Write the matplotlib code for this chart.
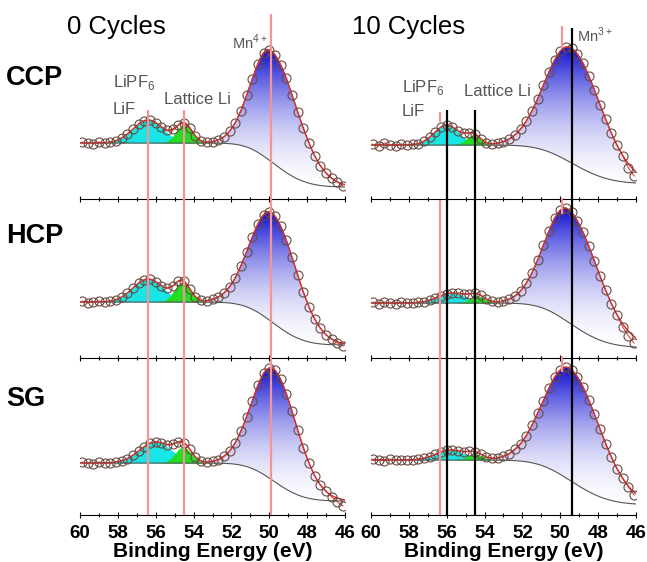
import numpy as np
import matplotlib
matplotlib.use('Agg')
import matplotlib.pyplot as plt
from matplotlib.colors import LinearSegmentedColormap

plt.rcParams['font.family'] = ['Liberation Sans', 'DejaVu Sans']

# binding energy of the measured points (eV)
energy = np.round(np.arange(59.9, 46.0, -0.3), 2)

samples = ['CCP', 'HCP', 'SG']
cycles = ['0 Cycles', '10 Cycles']

# measured Li 1s / Mn 3p intensity (a.u.), 0 cycles
ccp_0 = [57, 56, 55, 57, 56, 57, 58, 61, 65, 70, 75, 78, 79, 76, 72, 69, 70, 74, 76, 71, 63, 58, 57, 57,
         59, 62, 68, 76, 88, 104, 120, 135, 146, 149, 144, 134, 121, 104, 87, 71, 56, 43, 33, 26, 21, 17, 13]
hcp_0 = [57, 55, 56, 57, 56, 57, 58, 61, 65, 70, 75, 78, 79, 76, 72, 70, 72, 77, 77, 69, 61, 58, 57, 59,
         61, 65, 71, 80, 92, 106, 121, 134, 143, 146, 142, 132, 118, 101, 83, 66, 51, 39, 30, 23, 19, 15, 12]
sg_0 = [53, 52, 51, 53, 52, 52, 53, 54, 56, 60, 64, 68, 72, 73, 72, 70, 71, 73, 72, 66, 58, 54, 53, 54,
        55, 59, 64, 72, 84, 98, 114, 130, 142, 147, 145, 136, 121, 104, 85, 67, 52, 39, 30, 24, 18, 13, 9]

# measured intensity, 10 cycles
ccp_10 = [55, 53, 56, 54, 53, 55, 54, 55, 55, 58, 62, 67, 72, 74, 72, 68, 66, 66, 65, 60, 56, 55, 56, 57,
          60, 64, 70, 78, 88, 100, 114, 127, 139, 148, 152, 151, 145, 136, 123, 109, 94, 80, 66, 54, 43, 31, 23]
hcp_10 = [56, 54, 56, 55, 54, 56, 55, 55, 56, 56, 58, 60, 62, 64, 65, 65, 64, 64, 65, 63, 59, 57, 56, 57,
          59, 62, 67, 75, 85, 98, 113, 127, 140, 148, 150, 146, 137, 126, 112, 97, 82, 68, 54, 43, 31, 22, 15]
sg_10 = [56, 55, 54, 56, 55, 55, 55, 55, 56, 57, 58, 61, 63, 65, 65, 64, 63, 64, 63, 61, 58, 57, 57, 59,
         61, 66, 71, 79, 90, 102, 114, 127, 138, 145, 148, 145, 138, 128, 115, 101, 86, 71, 58, 46, 37, 28, 20]

# fit parameters per sample (CCP, HCP, SG), 0 cycles
bg_high_0 = [56, 56, 52]
bg_low_0 = [12, 13, 14]
lif_center_0 = [56.4, 56.4, 56.0]
lif_height_0 = [23, 23, 21]
lif_width_0 = [0.8, 0.8, 0.85]
latt_center_0 = [54.5, 54.6, 54.55]
latt_height_0 = [19, 20, 16]
latt_width_0 = [0.42, 0.42, 0.42]
mn_center_0 = [49.9, 49.86, 49.8]
mn_height_0 = [111, 109, 112]
mn_wl_0 = [1.05, 1.15, 1.1]
mn_wr_0 = [1.4, 1.3, 1.25]

# fit parameters, 10 cycles
bg_high_10 = [54, 55, 55]
bg_low_10 = [16, 11, 11]
lif_center_10 = [56.0, 55.7, 55.8]
lif_height_10 = [20, 10, 10]
lif_width_10 = [0.65, 0.75, 0.75]
latt_center_10 = [54.6, 54.4, 54.5]
latt_height_10 = [10, 7, 6]
latt_width_10 = [0.38, 0.4, 0.4]
mn_center_10 = [49.45, 49.6, 49.5]
mn_height_10 = [115, 113, 112]
mn_wl_10 = [1.35, 1.2, 1.35]
mn_wr_10 = [1.6, 1.6, 1.6]

# reference energies marked across each column
ref_lines_0 = [56.4, 54.5, 49.9]
ref_lines_10 = [56.0, 54.5, 49.4]
old_lines_10 = [56.35, 56.35, 49.9, 49.9, 49.9]

ef = np.linspace(60, 46, 561)


def gauss(x, c, h, w):
    return h * np.exp(-(x - c) ** 2 / (2 * w ** 2))


def asym(x, c, h, wl, wr):
    w = np.where(x > c, wl, wr)
    return h * np.exp(-(x - c) ** 2 / (2 * w ** 2))


def fit_curves(p):
    mn = asym(ef, p['mc'], p['mh'], p['wl'], p['wr'])
    # Shirley-type step following the Mn 3p area
    cum = np.cumsum(mn[::-1])[::-1]
    bg = p['lo'] + (p['hi'] - p['lo']) * cum / cum[0]
    lif = gauss(ef, p['lc'], p['lh'], p['lw'])
    lat = gauss(ef, p['gc'], p['gh'], p['gw'])
    return bg, lif, lat, mn


W, H = 647, 562
fig = plt.figure(figsize=(W / 100, H / 100), dpi=100)
spine_y = [199, 358, 515]
col_x = [80, 371]
cmap = LinearSegmentedColormap.from_list('mn', ['white', '#0A0AD2'])
grad = np.linspace(0, 1, 256)[:, None] ** 2
keys = ['hi', 'lo', 'lc', 'lh', 'lw', 'gc', 'gh', 'gw', 'mc', 'mh', 'wl', 'wr']

for col in range(2):
    if col == 0:
        P = [bg_high_0, bg_low_0, lif_center_0, lif_height_0, lif_width_0, latt_center_0, latt_height_0,
             latt_width_0, mn_center_0, mn_height_0, mn_wl_0, mn_wr_0]
        data = [ccp_0, hcp_0, sg_0]
    else:
        P = [bg_high_10, bg_low_10, lif_center_10, lif_height_10, lif_width_10, latt_center_10, latt_height_10,
             latt_width_10, mn_center_10, mn_height_10, mn_wl_10, mn_wr_10]
        data = [ccp_10, hcp_10, sg_10]
    for row in range(3):
        p = {k: v[row] for k, v in zip(keys, P)}
        ax = fig.add_axes([col_x[col] / W, (H - spine_y[row]) / H, 265 / W, 158 / H])
        ax.patch.set_visible(False)
        bg, lif, lat, mn = fit_curves(p)
        env = bg + lif + lat + mn

        # Mn 3p component with a vertical white-to-blue gradient
        poly = ax.fill_between(ef, bg, bg + mn, facecolor='none', edgecolor='none')
        im = ax.imshow(grad, cmap=cmap, origin='lower', aspect='auto', vmin=0, vmax=1,
                       extent=[60, 46, 0, env.max()], zorder=1)
        im.set_clip_path(poly.get_paths()[0], transform=ax.transData)
        ax.fill_between(ef, bg, bg + lif, color='#18E6E6', lw=0, zorder=2)
        ax.fill_between(ef, bg, bg + lat, color='#22DD22', lw=0, zorder=3)
        ax.plot(ef, bg, color='#555555', lw=0.8, zorder=4)
        ax.plot(ef, env, color='#E02828', lw=1.0, zorder=5)
        ax.plot(energy, data[row], color='#D83030', lw=0.7, zorder=5)
        ax.plot(energy, data[row], 'o', ms=6.5, mfc='none', mec='#6a4a40', mew=0.8, zorder=6)

        ax.set_xlim(60, 46)
        ax.set_ylim(0, 158)
        for s in ['left', 'right', 'top']:
            ax.spines[s].set_visible(False)
        ax.set_yticks([])
        ax.set_xticks(np.arange(46, 61, 1), minor=True)
        ax.tick_params(axis='x', which='both', direction='inout', width=0.8)
        ax.tick_params(axis='x', which='major', length=5)
        ax.tick_params(axis='x', which='minor', length=3)
        if row == 2:
            ax.set_xticks(np.arange(46, 61, 2), [str(t) for t in range(46, 61, 2)],
                          fontsize=13.5, fontweight='bold')
            ax.tick_params(axis='x', pad=5)
            ax.set_xlabel('Binding Energy (eV)', fontsize=15, fontweight='bold', labelpad=0)
        else:
            ax.set_xticks(np.arange(46, 61, 2), [''] * 8)

# marker lines spanning all three rows of a column
for col in range(2):
    ov = fig.add_axes([col_x[col] / W, (H - 515) / H, 265 / W, 515 / H])
    ov.set_xlim(60, 46)
    ov.set_ylim(515, 0)
    ov.axis('off')
    if col == 0:
        ov.vlines(ref_lines_0, [110, 110, 14], 515, color='#F49494', lw=1.6)
    else:
        ov.vlines(old_lines_10, [200, 112, 26, 198, 356], [515, 122, 48, 214, 372], color='#F49494', lw=1.6)
        ov.vlines(ref_lines_10, [110, 110, 28], 515, color='black', lw=1.6)


def px_text(x, y, s, **kw):
    fig.text(x / W, 1 - y / H, s, va='center', **kw)


px_text(67, 27, cycles[0], fontsize=18.5)
px_text(352, 27, cycles[1], fontsize=18.5)
for name, y in zip(samples, [78, 236, 399]):
    px_text(6, y, name, fontsize=19.5, fontweight='bold')

gray = '#555555'
px_text(113, 83, r'LiPF$_{\mathregular{6}}$', fontsize=12, color=gray)
px_text(113, 109, 'LiF', fontsize=12, color=gray)
px_text(164, 99, 'Lattice Li', fontsize=12, color=gray)
px_text(268, 42, r'Mn$^{\mathregular{4+}}$', fontsize=10.5, color=gray, ha='right')
px_text(402, 88, r'LiPF$_{\mathregular{6}}$', fontsize=12, color=gray)
px_text(402, 112, 'LiF', fontsize=12, color=gray)
px_text(464, 92, 'Lattice Li', fontsize=12, color=gray)
px_text(577, 35, r'Mn$^{\mathregular{3+}}$', fontsize=10.5, color=gray)

fig.savefig('out.png', dpi=100)
